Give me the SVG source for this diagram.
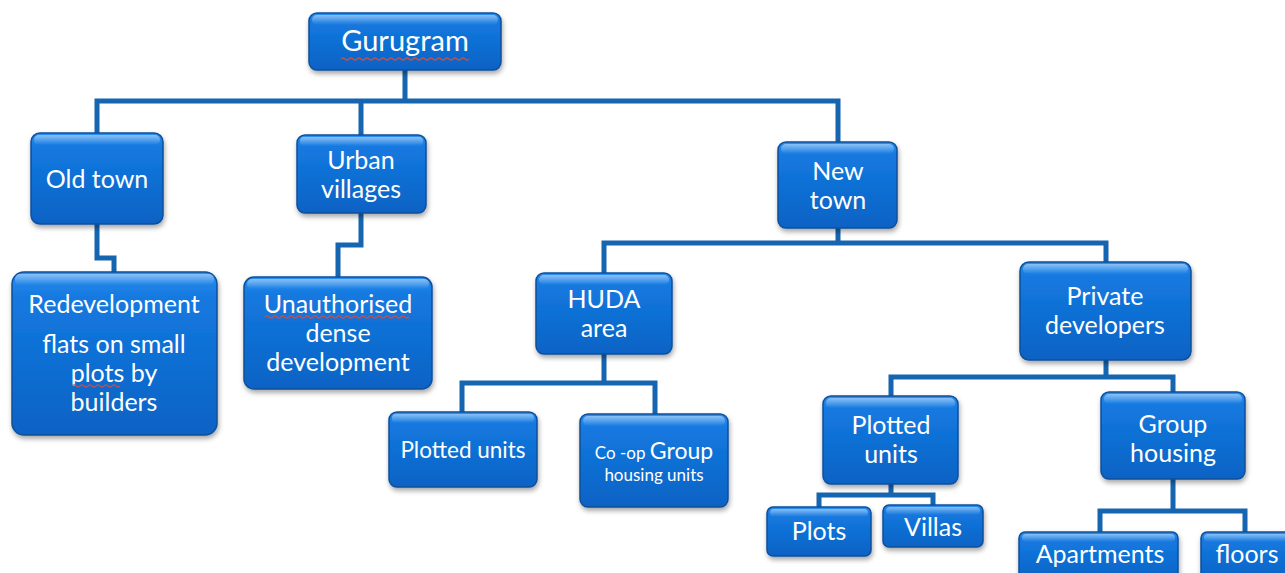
<svg xmlns="http://www.w3.org/2000/svg" width="1285" height="573" viewBox="0 0 1285 573">
<style>
.box{fill:url(#g);stroke:#0b4f9a;stroke-width:1.5;filter:url(#sh)}
.hl{fill:url(#hl);pointer-events:none}
.t{font-family:Lato,"Open Sans","Liberation Sans",sans-serif;fill:#fff;text-anchor:middle;font-size:25px}
.c{fill:none;stroke:#1565b0;stroke-width:5;stroke-linejoin:miter}
.sq{fill:none;stroke:#c0504d;stroke-width:1.2}
</style>
<defs>
<linearGradient id="g" x1="0" y1="0" x2="0" y2="1">
<stop offset="0" stop-color="#2d8ff0"/>
<stop offset="0.15" stop-color="#1479e0"/>
<stop offset="1" stop-color="#0a62c4"/>
</linearGradient>
<linearGradient id="hl" x1="0" y1="0" x2="0" y2="1">
<stop offset="0" stop-color="#ffffff" stop-opacity="0.45"/>
<stop offset="1" stop-color="#ffffff" stop-opacity="0"/>
</linearGradient>
<filter id="sh" x="-10%" y="-10%" width="130%" height="140%">
<feDropShadow dx="1" dy="3" stdDeviation="2.5" flood-color="#000" flood-opacity="0.35"/>
</filter>
</defs>
<g id="connectors">
<path class="c" d="M405 70V101M97 133V101H838V143M361 101V135"/>
<path class="c" d="M97 224V258H114V272"/>
<path class="c" d="M361 213V245H338V277"/>
<path class="c" d="M838 228V243M604 273V243H1106V262"/>
<path class="c" d="M604 354V383M462 412V383H655V414"/>
<path class="c" d="M1106 360V377M891 396V377H1173V392"/>
<path class="c" d="M891 484V495M819 507V495H933V505"/>
<path class="c" d="M1173 479V511M1100 532V511H1245V533"/>
</g>
<g id="gurugram">
<rect class="box" x="309" y="13" width="192" height="57" rx="8"/>
<rect class="hl" x="312" y="15" width="186" height="10" rx="5"/>
<text class="t" x="405" y="51" style="font-size:29px">Gurugram</text>
<path class="sq" d="M341 59q2-2 4 0t4 0t4 0t4 0t4 0t4 0t4 0t4 0t4 0t4 0t4 0t4 0t4 0t4 0t4 0t4 0t4 0t4 0t4 0t4 0t4 0t4 0t4 0t4 0t4 0t4 0t4 0t4 0t4 0t4 0t4 0t4 0"/>
</g>
<g id="oldtown">
<rect class="box" x="31" y="133" width="132" height="91" rx="9"/>
<rect class="hl" x="34" y="135" width="126" height="10" rx="5"/>
<text class="t" x="97" y="188">Old town</text>
</g>
<g id="redevelopment">
<rect class="box" x="12" y="272" width="205" height="163" rx="12"/>
<rect class="hl" x="15" y="274" width="199" height="11" rx="5"/>
<text class="t" x="114" y="313">Redevelopment</text>
<text class="t" x="114" y="353">flats on small</text>
<text class="t" x="114" y="382">plots by</text>
<text class="t" x="114" y="411">builders</text>
<path class="sq" d="M72 386q2-2 4 0t4 0t4 0t4 0t4 0t4 0t4 0t4 0t4 0t4 0t4 0t4 0"/>
</g>
<g id="urbanvillages">
<rect class="box" x="297" y="135" width="129" height="78" rx="8"/>
<rect class="hl" x="300" y="137" width="123" height="9" rx="4"/>
<text class="t" x="361" y="169">Urban</text>
<text class="t" x="361" y="198">villages</text>
</g>
<g id="unauthorised">
<rect class="box" x="244" y="277" width="188" height="112" rx="10"/>
<rect class="hl" x="247" y="279" width="182" height="10" rx="5"/>
<text class="t" x="338" y="313">Unauthorised</text>
<text class="t" x="338" y="342">dense</text>
<text class="t" x="338" y="371">development</text>
<path class="sq" d="M265 317q2-2 4 0t4 0t4 0t4 0t4 0t4 0t4 0t4 0t4 0t4 0t4 0t4 0t4 0t4 0t4 0t4 0t4 0t4 0t4 0t4 0t4 0t4 0t4 0t4 0t4 0t4 0t4 0t4 0t4 0t4 0t4 0t4 0t4 0t4 0t4 0t4 0"/>
</g>
<g id="newtown">
<rect class="box" x="778" y="142" width="119" height="86" rx="8"/>
<rect class="hl" x="781" y="144" width="113" height="10" rx="5"/>
<text class="t" x="838" y="180">New</text>
<text class="t" x="838" y="209">town</text>
</g>
<g id="huda">
<rect class="box" x="536" y="273" width="136" height="81" rx="8"/>
<rect class="hl" x="539" y="275" width="130" height="10" rx="5"/>
<text class="t" x="604" y="308">HUDA</text>
<text class="t" x="604" y="337">area</text>
</g>
<g id="plotted1">
<rect class="box" x="389" y="412" width="148" height="75" rx="8"/>
<rect class="hl" x="392" y="414" width="142" height="9" rx="4"/>
<text class="t" x="463" y="458" style="font-size:22.5px">Plotted units</text>
</g>
<g id="coop">
<rect class="box" x="580" y="414" width="148" height="93" rx="8"/>
<rect class="hl" x="583" y="416" width="142" height="10" rx="5"/>
<text class="t" x="654" y="459"><tspan style="font-size:17px">Co -op </tspan><tspan style="font-size:23px">Group</tspan></text>
<text class="t" x="654" y="481" style="font-size:17px">housing units</text>
</g>
<g id="private">
<rect class="box" x="1020" y="262" width="171" height="98" rx="9"/>
<rect class="hl" x="1023" y="264" width="165" height="10" rx="5"/>
<text class="t" x="1105" y="305">Private</text>
<text class="t" x="1105" y="334">developers</text>
</g>
<g id="plotted2">
<rect class="box" x="823" y="396" width="135" height="88" rx="8"/>
<rect class="hl" x="826" y="398" width="129" height="10" rx="5"/>
<text class="t" x="891" y="434">Plotted</text>
<text class="t" x="891" y="463">units</text>
</g>
<g id="grouphousing">
<rect class="box" x="1101" y="392" width="144" height="87" rx="8"/>
<rect class="hl" x="1104" y="394" width="138" height="10" rx="5"/>
<text class="t" x="1173" y="433">Group</text>
<text class="t" x="1173" y="462">housing</text>
</g>
<g id="plots">
<rect class="box" x="767" y="507" width="104" height="49" rx="6"/>
<rect class="hl" x="770" y="509" width="98" height="8" rx="4"/>
<text class="t" x="819" y="540">Plots</text>
</g>
<g id="villas">
<rect class="box" x="883" y="505" width="100" height="42" rx="6"/>
<rect class="hl" x="886" y="507" width="94" height="8" rx="4"/>
<text class="t" x="933" y="536">Villas</text>
</g>
<g id="apartments">
<rect class="box" x="1019" y="532" width="159" height="50" rx="6"/>
<rect class="hl" x="1022" y="534" width="153" height="8" rx="4"/>
<text class="t" x="1100" y="563">Apartments</text>
</g>
<g id="floors">
<rect class="box" x="1201" y="532" width="95" height="50" rx="6"/>
<rect class="hl" x="1204" y="534" width="89" height="8" rx="4"/>
<text class="t" x="1247" y="563">floors</text>
</g>
</svg>
